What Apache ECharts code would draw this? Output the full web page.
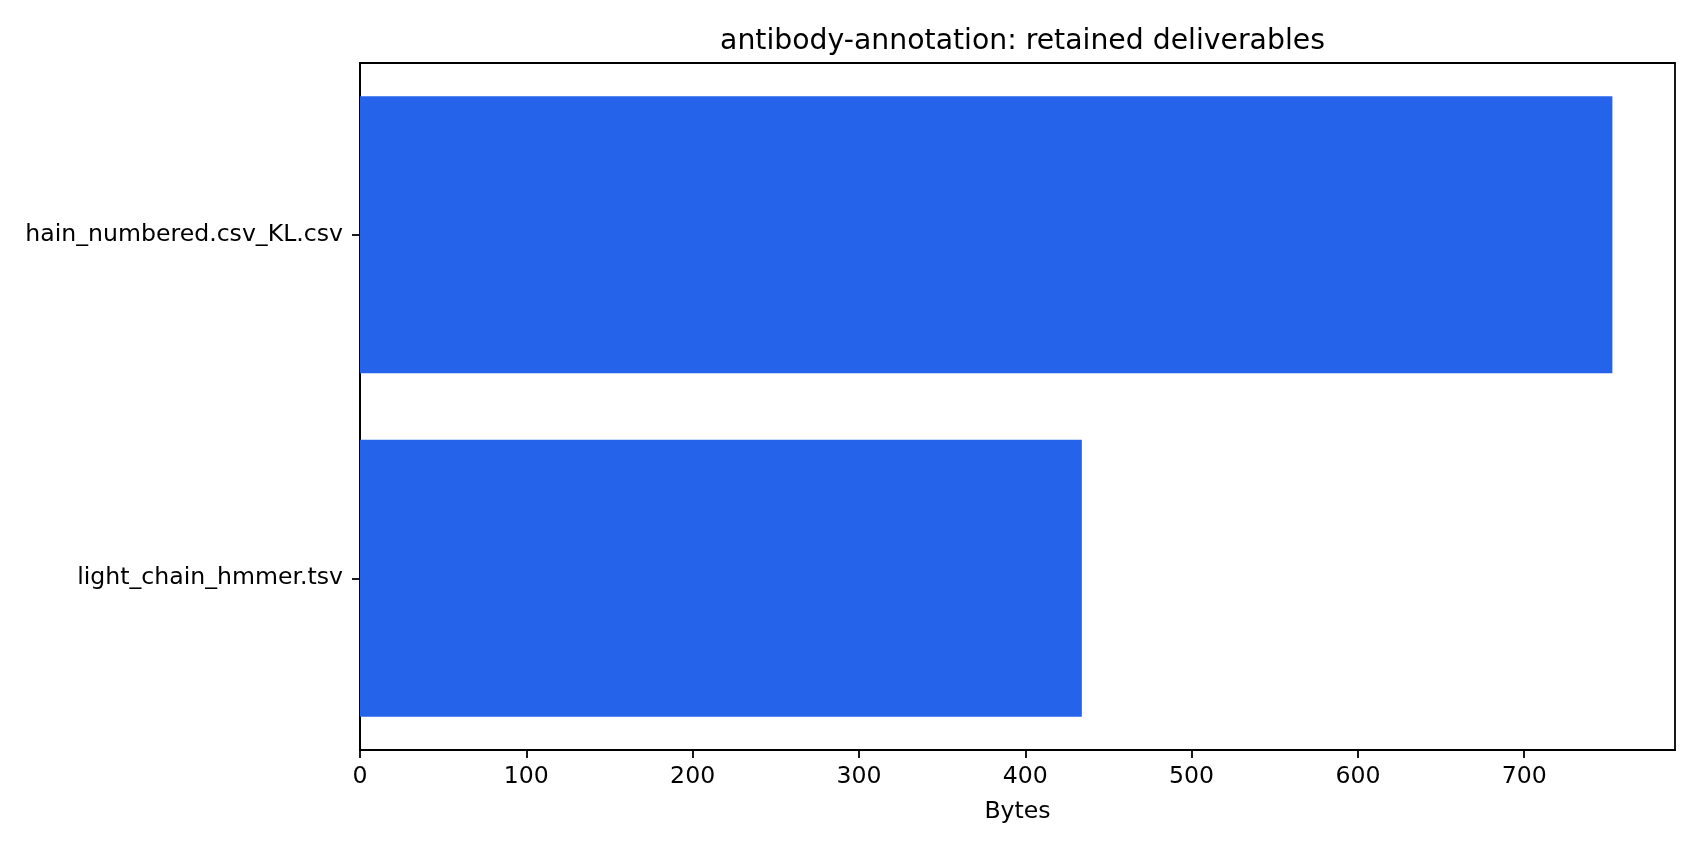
<!DOCTYPE html>
<html>
<head>
<meta charset="utf-8">
<script src="https://cdn.jsdelivr.net/npm/echarts@6/dist/echarts.min.js"></script>
<style>
html,body{margin:0;padding:0;background:#fff;}
#chart{width:1700px;height:850px;}
</style>
</head>
<body>
<div id="chart"></div>
<script>
const categories = ['light_chain_hmmer.tsv', 'hain_numbered.csv_KL.csv'];
const bytesValues = [434, 753];
const xTicks = [0, 100, 200, 300, 400, 500, 600, 700];
const titleText = 'antibody-annotation: retained deliverables';
const xAxisName = 'Bytes';

const FONT = 'DejaVu Sans';
const xMax = Math.max(...bytesValues) * 1.05;

const chart = echarts.init(document.getElementById('chart'), null, {renderer: 'canvas'});
chart.setOption({
  animation: false,
  backgroundColor: '#ffffff',
  title: {
    text: titleText,
    left: 1017.5,
    top: 23,
    textAlign: 'center',
    textStyle: {fontFamily: FONT, fontSize: 28.3, fontWeight: 'normal', color: '#000'}
  },
  grid: {
    left: 360, right: 25, top: 63, bottom: 100,
    show: true, borderColor: '#000', borderWidth: 1.8, backgroundColor: 'transparent',
    containLabel: false
  },
  xAxis: {
    type: 'value',
    min: 0,
    max: xMax,
    name: xAxisName,
    nameLocation: 'middle',
    nameGap: 50,
    nameTextStyle: {fontFamily: FONT, fontSize: 23.6, color: '#000'},
    splitLine: {show: false},
    axisLine: {show: true, lineStyle: {color: '#000', width: 1.8}},
    axisTick: {show: true, length: 8, lineStyle: {color: '#000', width: 1.8}, customValues: xTicks},
    axisLabel: {fontFamily: FONT, fontSize: 23.6, color: '#000', margin: 15, customValues: xTicks}
  },
  yAxis: {
    type: 'category',
    data: categories,
    axisLine: {show: true, lineStyle: {color: '#000', width: 1.8}},
    axisTick: {show: true, alignWithLabel: true, length: 8, lineStyle: {color: '#000', width: 1.8}},
    axisLabel: {fontFamily: FONT, fontSize: 23.6, color: '#000', margin: 17},
    splitLine: {show: false}
  },
  series: [{
    type: 'bar',
    data: bytesValues,
    barWidth: '80.6%',
    itemStyle: {color: '#2563eb'}
  }]
});
</script>
</body>
</html>
